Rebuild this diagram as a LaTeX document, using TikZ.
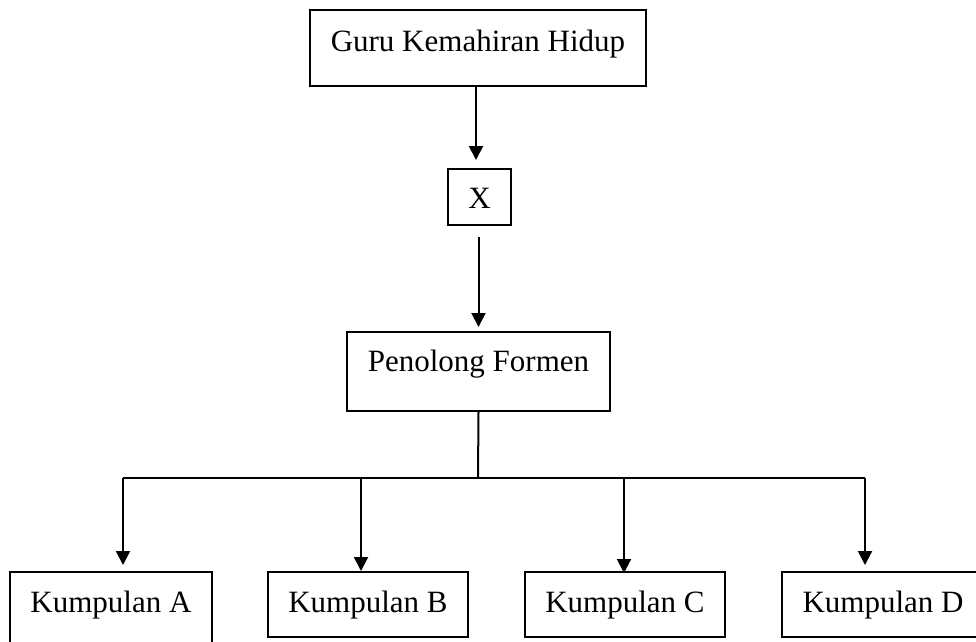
\documentclass[tikz,border=0pt]{standalone}
\usepackage{fontspec}
\setmainfont{Liberation Serif}
\usetikzlibrary{arrows.meta}
\begin{document}
\begin{tikzpicture}[x=1pt,y=-1pt,
  box/.style={draw, line width=1.8pt, inner sep=0pt, anchor=north, font=\fontsize{31}{37}\selectfont},
  arr/.style={line width=2pt, -{Triangle[width=14pt,length=14pt]}},
  ln/.style={line width=2pt}]
\useasboundingbox (0,0) rectangle (976,641);
\clip (0,0) rectangle (976,641);
\node[box, minimum width=336pt, text height=42pt, text depth=34pt] (top) at (478,9) {Guru Kemahiran Hidup};
\node[box, minimum width=63pt, text height=40pt, text depth=16pt] (X) at (479.5,168) {X};
\node[box, minimum width=263pt, text height=40pt, text depth=39pt] (pf) at (478.5,331) {Penolong Formen};
\node[box, minimum width=202pt, text height=41pt, text depth=48pt] (A) at (111,571) {Kumpulan A};
\node[box, minimum width=200pt, text height=41pt, text depth=24pt] (B) at (368,571) {Kumpulan B};
\node[box, minimum width=200pt, text height=41pt, text depth=24pt] (C) at (625,571) {Kumpulan C};
\node[box, minimum width=202pt, text height=41pt, text depth=24pt] (D) at (883,571) {Kumpulan D};
\coordinate (bus) at (478,478);
\draw[arr, shorten >=8pt] ([xshift=-2pt]top.south) -- ([xshift=-2pt]top.south |- X.north);
\draw[arr, shorten <=11pt, shorten >=4pt] ([xshift=-1pt]X.south) -- ([xshift=-1pt]X.south |- pf.north);
\draw[ln] (pf.south) -- (bus);
\draw[ln] (123,478) -- (865,478);
\draw[arr, shorten >=6pt] (123,478) -- (123,571);
\draw[arr] (361,478) -- (361,571);
\draw[arr] (624,478) -- (624,573);
\draw[arr, shorten >=6pt] (865,478) -- (865,571);
\end{tikzpicture}
\end{document}
